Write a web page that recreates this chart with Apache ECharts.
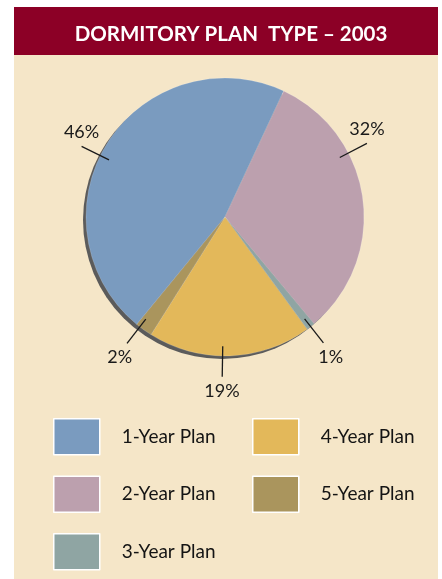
<!DOCTYPE html>
<html>
<head>
<meta charset="utf-8">
<script src="https://cdn.jsdelivr.net/npm/echarts@6/dist/echarts.min.js"></script>
<style>
  html, body { margin: 0; padding: 0; background: #ffffff; }
  #chart { width: 442px; height: 579px; }
</style>
</head>
<body>
<div id="chart"></div>
<script>
// Dormitory plan type shares, 2003
const planNames = ['1-Year Plan', '2-Year Plan', '3-Year Plan', '4-Year Plan', '5-Year Plan'];
const planShares = [46, 32, 1, 19, 2];
const planColors = ['#7a9bbf', '#bca0ae', '#8fa5a3', '#e3b85a', '#aa955d'];
const legendLeftColumn = ['1-Year Plan', '2-Year Plan', '3-Year Plan'];
const legendRightColumn = ['4-Year Plan', '5-Year Plan'];

const FONT = 'Lato, "Open Sans", sans-serif';
const PIE_CENTER = [225, 217];
const PIE_RADIUS = 139;
const START_ANGLE = 230.6; // degrees, ECharts convention (counter-clockwise from 3 o'clock)
// angular nudges (degrees, clockwise) for leader lines that sit off their slice midpoint
const labelNudge = { 0: -6, 1: -20, 3: 3, 4: 2 };

const chart = echarts.init(document.getElementById('chart'));

const slices = planNames.map((name, i) => ({
  name: name,
  value: planShares[i],
  itemStyle: { color: planColors[i] }
}));

// mid-angle of every slice, measured clockwise from 12 o'clock
const total = planShares.reduce((a, b) => a + b, 0);
const midAngles = [];
(function () {
  let acc = 90 - START_ANGLE;
  planShares.forEach(v => {
    const span = v / total * 360;
    midAngles.push(acc + span / 2);
    acc += span;
  });
})();

function polar(angleDeg, dist) {
  const a = angleDeg * Math.PI / 180;
  return [PIE_CENTER[0] + dist * Math.sin(a), PIE_CENTER[1] - dist * Math.cos(a)];
}

const legendCommon = {
  orient: 'vertical',
  icon: 'rect',
  padding: 0,
  height: 200,
  itemWidth: 46,
  itemHeight: 36,
  itemGap: 20,
  selectedMode: false,
  itemStyle: { borderColor: '#ffffff', borderWidth: 1.5 },
  textStyle: { fontFamily: FONT, fontSize: 19, color: '#141414', padding: [0, 0, 0, 17] }
};

chart.setOption({
  backgroundColor: '#ffffff',
  animation: false,
  graphic: [
    { type: 'rect', z: -10, shape: { x: 14, y: 55, width: 424, height: 524 }, style: { fill: '#f5e6c8' } },
    { type: 'rect', z: -10, shape: { x: 14, y: 7, width: 424, height: 48 }, style: { fill: '#8c0026' } }
  ],
  title: {
    text: 'DORMITORY PLAN  TYPE \u2013 2003',
    left: 226,
    textAlign: 'center',
    top: 19,
    textStyle: { fontFamily: FONT, fontSize: 20.5, fontWeight: 'bold', color: '#ffffff' }
  },
  legend: [
    Object.assign({ data: legendLeftColumn, left: 53, top: 418 }, legendCommon),
    Object.assign({ data: legendRightColumn, left: 252, top: 418 }, legendCommon)
  ],
  series: [
    {
      // drop shadow disc behind the pie
      type: 'pie',
      silent: true,
      center: [PIE_CENTER[0] - 3, PIE_CENTER[1] + 3],
      radius: PIE_RADIUS,
      label: { show: false },
      labelLine: { show: false },
      itemStyle: { color: '#5b5b5b' },
      data: [{ name: 'shadow', value: 1 }],
      z: 1
    },
    {
      // the coloured slices
      type: 'pie',
      center: PIE_CENTER,
      radius: PIE_RADIUS,
      startAngle: START_ANGLE,
      clockwise: true,
      itemStyle: { borderColor: 'rgba(255,255,255,0.35)', borderWidth: 0.5 },
      label: { show: false },
      labelLine: { show: false },
      data: slices,
      z: 2
    },
    {
      // transparent overlay carrying the percentage labels, so leader lines run over the slices
      type: 'pie',
      silent: true,
      center: PIE_CENTER,
      radius: PIE_RADIUS,
      startAngle: START_ANGLE,
      clockwise: true,
      avoidLabelOverlap: false,
      itemStyle: { color: 'rgba(0,0,0,0)' },
      label: {
        show: true,
        position: 'outside',
        formatter: '{c}%',
        fontFamily: FONT,
        fontSize: 18,
        color: '#1a1a1a'
      },
      labelLine: {
        show: true,
        length: 16,
        length2: 0,
        lineStyle: { color: '#1a1a1a', width: 1.3 }
      },
      labelLayout: function (params) {
        const i = params.dataIndex;
        const ang = midAngles[i] + (labelNudge[i] || 0);
        const rad = ang * Math.PI / 180;
        const p1 = polar(ang, PIE_RADIUS * 0.93);
        const p2 = polar(ang, PIE_RADIUS * 1.15);
        const up = Math.cos(rad) > 0;
        return {
          x: p2[0] + (up ? 0 : 12 * Math.sin(rad)),
          y: p2[1] + (up ? -14 : 14),
          align: 'center',
          verticalAlign: 'middle',
          labelLinePoints: [p1, p2, p2]
        };
      },
      data: planNames.map((name, i) => ({ name: name, value: planShares[i] })),
      z: 3
    }
  ]
});
</script>
</body>
</html>
